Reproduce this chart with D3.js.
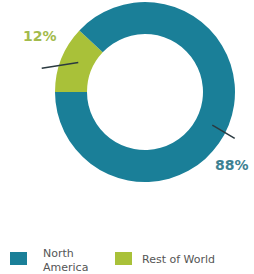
<!DOCTYPE html>
<html>
<head>
<meta charset="utf-8">
<script src="https://cdn.jsdelivr.net/npm/d3@7/dist/d3.min.js"></script>
<style>
  body { margin: 0; background: #fff; }
  svg { display: block; font-family: Verdana, "DejaVu Sans", sans-serif; }
</style>
</head>
<body>
<svg width="254" height="274"></svg>
<script>
const regions = ['Rest of World', 'North America'];
const shares = [12, 88];
const labels = ['12%', '88%'];
const colors = ['#a9c139', '#1a7f98'];
const textColors = ['#a3bb4c', '#3d8192'];

const svg = d3.select('svg');
const cx = 145, cy = 92, outer = 90, inner = 58;

const pie = d3.pie()
  .sort(null)
  .value(d => d)
  .startAngle(1.5 * Math.PI)
  .endAngle(3.5 * Math.PI);

const arc = d3.arc().innerRadius(inner).outerRadius(outer);
const arcs = pie(shares);

const g = svg.append('g').attr('transform', `translate(${cx},${cy})`);

g.selectAll('path')
  .data(arcs)
  .enter()
  .append('path')
  .attr('d', arc)
  .attr('fill', (d, i) => colors[i]);

// leader lines, inner end inside the ring, outer end just past it
const leader = [
  {inA: 0.04, inR: 73, outA: -0.15, outR: 106},
  {inA: 0.08, inR: 75, outA: 0.1, outR: 101}
];
const polar = (a, r) => [Math.sin(a) * r, -Math.cos(a) * r];

g.selectAll('line.leader')
  .data(arcs)
  .enter()
  .append('line')
  .attr('class', 'leader')
  .each(function(d, i) {
    const mid = (d.startAngle + d.endAngle) / 2;
    const p0 = polar(mid + leader[i].inA, leader[i].inR);
    const p1 = polar(mid + leader[i].outA, leader[i].outR);
    d3.select(this)
      .attr('x1', p0[0]).attr('y1', p0[1])
      .attr('x2', p1[0]).attr('y2', p1[1]);
  })
  .attr('stroke', '#2b3a40')
  .attr('stroke-width', 1.5);

svg.append('text')
  .attr('x', 23).attr('y', 41)
  .attr('fill', textColors[0])
  .attr('font-size', 14).attr('font-weight', 'bold')
  .text(labels[0]);

svg.append('text')
  .attr('x', 215).attr('y', 170)
  .attr('fill', textColors[1])
  .attr('font-size', 14).attr('font-weight', 'bold')
  .text(labels[1]);

// legend
const legend = svg.append('g');
const legendItems = [
  {i: 1, x: 10, lines: ['North', 'America']},
  {i: 0, x: 115, lines: ['Rest of World']}
];
legendItems.forEach(item => {
  legend.append('rect')
    .attr('x', item.x).attr('y', 252)
    .attr('width', 17).attr('height', 13)
    .attr('fill', colors[item.i]);
  const t = legend.append('text')
    .attr('fill', '#555')
    .attr('font-size', 11);
  item.lines.forEach((s, k) => {
    t.append('tspan')
      .attr('x', item.x + (item.lines.length > 1 ? 33 : 27))
      .attr('y', item.lines.length > 1 ? 257 + k * 14 : 263)
      .text(s);
  });
});
</script>
</body>
</html>
